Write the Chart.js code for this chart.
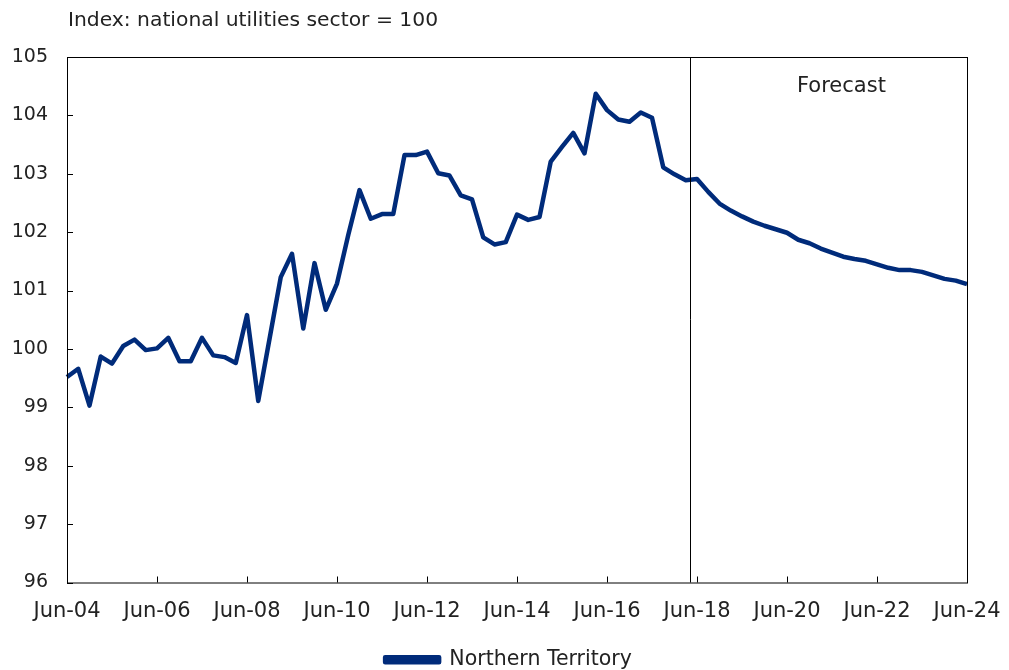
<!DOCTYPE html>
<html>
<head>
<meta charset="utf-8">
<script src="https://cdn.jsdelivr.net/npm/chart.js@4.4.1/dist/chart.umd.min.js"></script>
<style>
  html, body { margin: 0; padding: 0; background: #fff; }
  #wrap { width: 1009px; height: 670px; }
</style>
</head>
<body>
<div id="wrap"><canvas id="chart" width="1009" height="670"></canvas></div>
<script>
// Quarterly index, Jun-04 .. Jun-24 (81 quarters)
const seriesName = 'Northern Territory';
const yTitle = 'Index: national utilities sector = 100';
const forecastLabel = 'Forecast';
const forecastAt = 55.4; // between Mar-18 and Jun-18 quarters

const values = [
  99.52, 99.66, 99.03, 99.87, 99.75, 100.05, 100.16, 99.98, 100.01, 100.19,
  99.79, 99.79, 100.19, 99.89, 99.86, 99.76, 100.58, 99.11, 100.17, 101.23,
  101.63, 100.35, 101.47, 100.67, 101.12, 101.95, 102.72, 102.23, 102.31, 102.31,
  103.32, 103.32, 103.38, 103.01, 102.97, 102.63, 102.56, 101.91, 101.79, 101.83,
  102.30, 102.21, 102.26, 103.21, 103.46, 103.70, 103.35, 104.37, 104.09, 103.93,
  103.89, 104.05, 103.96, 103.11, 102.99, 102.89, 102.91, 102.69, 102.49, 102.37,
  102.27, 102.18, 102.11, 102.05, 101.99, 101.87, 101.81, 101.72, 101.65, 101.58,
  101.54, 101.51, 101.45, 101.39, 101.35, 101.35, 101.32, 101.26, 101.20, 101.17,
  101.11
];

// category labels: one per quarter starting Jun-04
const months = ['Jun', 'Sep', 'Dec', 'Mar'];
const labels = [];
for (let i = 0; i < values.length; i++) {
  const yr = 4 + Math.floor((i + 2) / 4);
  labels.push(months[i % 4] + '-' + String(yr).padStart(2, '0'));
}

const navy = '#002B7A';
const font = 'DejaVu Sans';

const extras = {
  id: 'extras',
  afterLayout(chart) {
    // centre the legend on the whole canvas, not just the padded area
    if (chart.legend) { chart.legend.left += 25; chart.legend.right += 25; }
  },
  afterDraw(chart) {
    const ctx = chart.ctx;
    const a = chart.chartArea;
    const x = chart.scales.x, y = chart.scales.y;
    ctx.save();
    ctx.strokeStyle = '#000';
    ctx.lineWidth = 1;
    // frame
    ctx.strokeRect(a.left + 0.5, a.top + 0.5, a.right - a.left, a.bottom - a.top);
    // inward ticks
    ctx.beginPath();
    y.ticks.forEach(t => {
      const py = Math.round(y.getPixelForValue(t.value)) + 0.5;
      ctx.moveTo(a.left, py); ctx.lineTo(a.left + 6, py);
    });
    for (let i = 0; i < labels.length; i += 8) {
      const px = Math.round(x.getPixelForValue(i)) + 0.5;
      ctx.moveTo(px, a.bottom); ctx.lineTo(px, a.bottom - 6);
    }
    ctx.stroke();
    // forecast divider
    const p0 = x.getPixelForValue(Math.floor(forecastAt));
    const p1 = x.getPixelForValue(Math.ceil(forecastAt));
    const fx = Math.round(p0 + (p1 - p0) * (forecastAt % 1)) + 0.5;
    ctx.beginPath();
    ctx.moveTo(fx, a.top); ctx.lineTo(fx, a.bottom);
    ctx.stroke();
    // texts
    ctx.fillStyle = '#222';
    ctx.font = '20.3px "' + font + '"';
    ctx.textBaseline = 'middle';
    ctx.textAlign = 'left';
    ctx.fillText(yTitle, 68, 21);
    ctx.font = '21px "' + font + '"';
    ctx.fillText(forecastLabel, 797, 87);
    ctx.restore();
  }
};

new Chart(document.getElementById('chart'), {
  type: 'line',
  data: {
    labels: labels,
    datasets: [{
      label: seriesName,
      data: values,
      borderColor: navy,
      backgroundColor: navy,
      borderWidth: 4.5,
      pointRadius: 0,
      tension: 0,
      borderJoinStyle: 'round'
    }]
  },
  options: {
    responsive: false,
    animation: false,
    layout: { padding: { left: 0, right: 42, top: 57, bottom: -10 } },
    plugins: {
      tooltip: { enabled: false },
      legend: {
        position: 'bottom',
        labels: {
          color: '#222',
          font: { family: font, size: 20.5 },
          boxWidth: 54,
          boxHeight: 5,
          padding: 2
        }
      }
    },
    scales: {
      x: {
        offset: false,
        grid: { display: false, drawTicks: false },
        border: { display: false },
        ticks: {
          autoSkip: false,
          maxRotation: 0,
          padding: 16,
          color: '#222',
          font: { family: font, size: 21 },
          callback: (v, i) => (i % 8 === 0 ? labels[i] : null)
        },
        afterFit: s => { s.height = 65; s.paddingLeft = 0; s.paddingRight = 0; }
      },
      y: {
        min: 96,
        max: 105,
        grid: { display: false, drawTicks: false },
        border: { display: false },
        ticks: {
          stepSize: 1,
          padding: 19,
          color: '#222',
          font: { family: font, size: 19 }
        },
        afterFit: s => { s.width = 67; s.paddingTop = 0; s.paddingBottom = 0; }
      }
    }
  },
  plugins: [extras]
});
</script>
</body>
</html>
